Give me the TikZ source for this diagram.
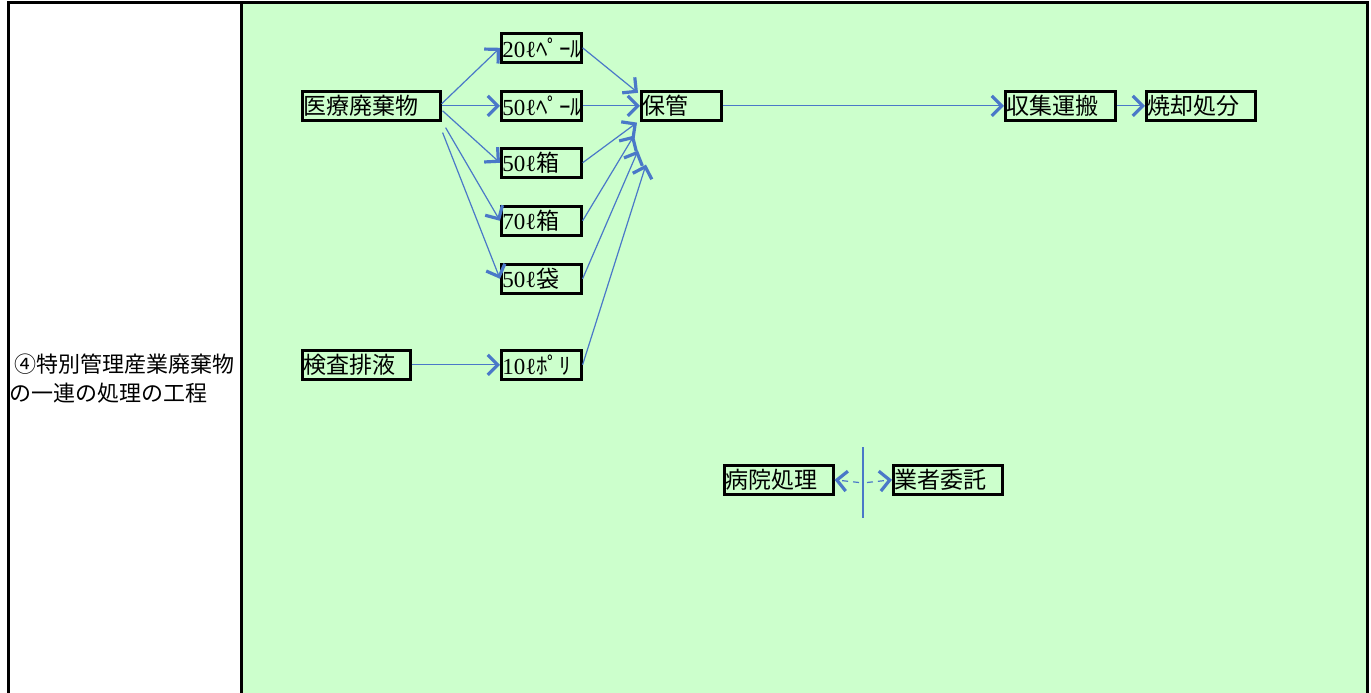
\documentclass[tikz,border=0pt]{standalone}
\usepackage{fontspec}
\setmainfont{Liberation Serif}
\newfontfamily\jp{Noto Sans CJK JP}
\usetikzlibrary{arrows.meta,calc}
\definecolor{bg}{HTML}{CCFFCC}
\definecolor{ln}{HTML}{4A78C8}
\newcommand{\nm}[1]{{\rmfamily #1}}
\tikzset{
  bx/.style={draw=black,line width=2.6pt,anchor=north west,minimum height=29pt,inner sep=1pt,align=left,font=\jp\fontsize{23}{26}\selectfont},
  conn/.style={draw=ln,line width=1.2pt,-{Straight Barb[length=10pt,width=20pt,line width=3.2pt]}},
  dconn/.style={conn,dash pattern=on 6pt off 5pt},
  lbl/.style={anchor=west,inner sep=0pt,font=\jp\fontsize{22}{24}\selectfont}
}
\begin{document}
\begin{tikzpicture}[x=1pt,y=-1pt]
\useasboundingbox (0,0) rectangle (1371,693);
\fill[bg] (241,3) rectangle (1367,693);
\draw[line width=3pt] (8,693) -- (8,3) -- (1367,3) -- (1367,693);
\draw[line width=3pt] (241,3) -- (241,693);
\node[lbl] (t1) at (14,364) {④特別管理産業廃棄物};
\node[lbl] (t2) at (9,393) {の一連の処理の工程};
% boxes
\node[bx,text width=136pt] (iryo) at (301,90) {医療廃棄物};
\node[bx,text width=78pt] (p20) at (500,32) {\nm{20ℓ}ﾍﾟｰﾙ};
\node[bx,text width=78pt] (p50) at (500,90) {\nm{50ℓ}ﾍﾟｰﾙ};
\node[bx,text width=78pt] (h50) at (500,147) {\nm{50ℓ}箱};
\node[bx,text width=78pt] (h70) at (500,205) {\nm{70ℓ}箱};
\node[bx,text width=78pt] (f50) at (500,263) {\nm{50ℓ}袋};
\node[bx,text width=78pt] (p10) at (500,349) {\nm{10ℓ}ﾎﾟﾘ};
\node[bx,text width=106pt] (kensa) at (301,349) {検査排液};
\node[bx,text width=78pt] (hokan) at (640,90) {保管};
\node[bx,text width=108pt] (shu) at (1004,90) {収集運搬};
\node[bx,text width=107pt] (sho) at (1145,90) {焼却処分};
\node[bx,text width=107pt] (byo) at (723,464) {病院処理};
\node[bx,text width=107pt] (gyo) at (892,464) {業者委託};
% connectors
\draw[conn] ($(iryo.east)+(0,-2)$) -- (p20.west);
\draw[conn] ($(iryo.east)+(0,0)$) -- (p50.west);
\draw[conn] ($(iryo.east)+(1,5)$) -- (h50.west);
\draw[conn] ($(iryo.south east)+(4,6)$) -- (h70.west);
\draw[conn] ($(iryo.south east)+(1,11)$) -- (f50.west);
\draw[conn] (kensa.east) -- (p10.west);
\draw[conn] (p20.east) -- ($(hokan.west)+(-2,-13)$);
\draw[conn] (p50.east) -- (hokan.west);
\draw[conn] (h50.east) -- ($(hokan.south west)+(-3,1)$);
\draw[conn] (h70.east) -- ($(hokan.south west)+(-6,14)$);
\draw[conn] (f50.east) -- ($(hokan.south west)+(-2,29)$);
\draw[conn] (p10.east) -- ($(hokan.south west)+(6,43)$);
\draw[conn] (hokan.east) -- (shu.west);
\draw[conn] (shu.east) -- (sho.west);
\coordinate (vtop) at (863,447);
\coordinate (vbot) at (863,518);
\draw[draw=ln,line width=1.2pt] (vtop) -- (vbot);
\draw[dconn] ($(vtop)!0.5!(vbot)+(-4,0)$) -- (byo.east);
\draw[dconn] ($(vtop)!0.5!(vbot)+(4,0)$) -- (gyo.west);
\end{tikzpicture}
\end{document}
